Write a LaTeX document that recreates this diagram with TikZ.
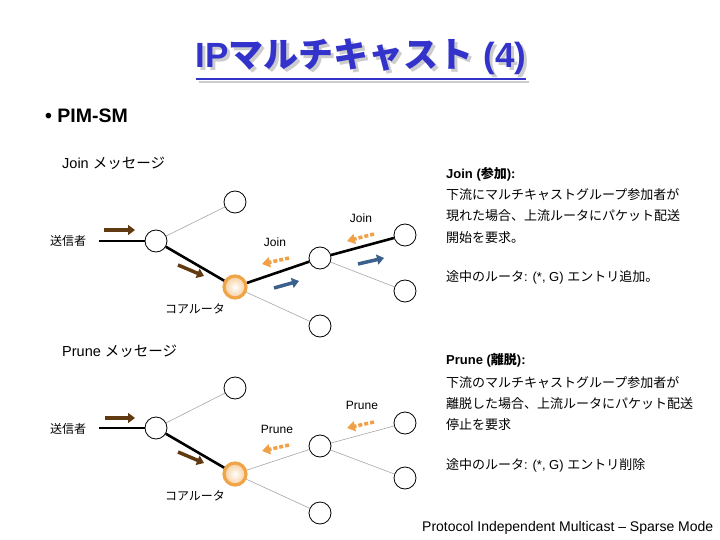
\documentclass[tikz,border=0pt]{standalone}
\usepackage{fontspec}
\setmainfont{Liberation Sans}
\newfontfamily\jp{Noto Sans CJK JP}
\usetikzlibrary{arrows.meta}
\definecolor{titleblue}{RGB}{51,51,204}
\definecolor{brownA}{RGB}{98,58,18}
\definecolor{orangeA}{RGB}{240,160,70}
\definecolor{blueA}{RGB}{60,96,140}
\definecolor{ringO}{RGB}{240,164,72}
\tikzset{
  router/.style={circle, draw=black, line width=0.8pt, minimum size=22pt, inner sep=0pt, fill=white},
  core/.style={circle, draw=ringO, line width=3.2pt, minimum size=22pt, inner sep=0pt, inner color=white, outer color=ringO!55},
  thickln/.style={line width=2.6pt, black},
  thinln/.style={line width=0.6pt, gray!70},
  brownarr/.style={brownA, line width=3.5pt, -{Triangle[length=7pt,width=10pt]}},
  bluearr/.style={blueA, line width=3.5pt, -{Triangle[length=7pt,width=10pt]}},
  orangearr/.style={orangeA, line width=3.5pt, dash pattern=on 4pt off 2pt, -{Triangle[length=8pt,width=10pt]}},
  body/.style={anchor=west, inner sep=0pt, font=\fontsize{13}{15}\selectfont},
  lbl/.style={inner sep=0pt, font=\fontsize{12}{14}\selectfont},
  sub/.style={anchor=west, inner sep=0pt, font=\fontsize{14.5}{17}\selectfont},
}
\begin{document}
\begin{tikzpicture}[x=1pt,y=-1pt]
\useasboundingbox (0,0) rectangle (720,540);
\fill[white] (0,0) rectangle (720,540);

% title
\node[inner sep=0pt, text=gray!40, font=\fontsize{35}{40}\selectfont\bfseries] (titleshadow) at (364,60) {IP{\jp マルチキャスト} (4)};
\node[inner sep=0pt, text=titleblue, font=\fontsize{35}{40}\selectfont\bfseries] (title) at (361,57) {IP{\jp マルチキャスト} (4)};
\draw[gray!40, line width=2.4pt] ([xshift=3pt,yshift=-7pt]title.south west) -- ([xshift=3pt,yshift=-7pt]title.south east);
\draw[titleblue, line width=2.4pt] ([yshift=-4pt]title.south west) -- ([yshift=-4pt]title.south east);

\node[anchor=west, inner sep=0pt, font=\fontsize{19.5}{22}\selectfont\bfseries] (pim) at (45,116) {\textbullet\ PIM-SM};
\node[sub] (joinmsg) at (62,163) {Join {\jp メッセージ}};
\node[sub] (prunemsg) at (62,351) {Prune {\jp メッセージ}};

% ---------- Join diagram ----------
\coordinate (s1) at (99,241);
\node[router] (a1) at (156,241) {};
\node[router] (t1) at (235,202) {};
\node[core]   (c1) at (235,287) {};
\node[router] (b1) at (320,258) {};
\node[router] (r1) at (405,235) {};
\node[router] (d1) at (405,291) {};
\node[router] (e1) at (320,326) {};
\draw[thickln] (s1) -- (a1);
\draw[thickln] (a1) -- (c1);
\draw[thickln] (c1) -- (b1);
\draw[thickln] (b1) -- (r1);
\draw[thinln] (a1) -- (t1);
\draw[thinln] (b1) -- (d1);
\draw[thinln] (c1) -- (e1);

\node[lbl] (snd1) at (68,241) {\jp 送信者};
\node[lbl] (core1) at (195,309) {\jp コアルータ};
\node[lbl] (j1) at (275,242) {Join};
\node[lbl] (j2) at (361,218) {Join};

\coordinate (ba1s) at (104,230); \coordinate (ba1e) at (135,230);
\draw[brownarr] (ba1s) -- (ba1e);
\coordinate (ba2s) at (178,265); \coordinate (ba2e) at (204,276);
\draw[brownarr] (ba2s) -- (ba2e);
\coordinate (oa1s) at (289,258); \coordinate (oa1e) at (262,264);
\draw[orangearr] (oa1s) -- (oa1e);
\coordinate (oa2s) at (374,234); \coordinate (oa2e) at (347,241);
\draw[orangearr] (oa2s) -- (oa2e);
\coordinate (bl1s) at (274,288); \coordinate (bl1e) at (299,281);
\draw[bluearr] (bl1s) -- (bl1e);
\coordinate (bl2s) at (358,264); \coordinate (bl2e) at (384,258);
\draw[bluearr] (bl2s) -- (bl2e);

% ---------- Prune diagram ----------
\coordinate (s2) at (99,428);
\node[router] (a2) at (156,428) {};
\node[router] (t2) at (235,388) {};
\node[core]   (c2) at (235,474) {};
\node[router] (b2) at (320,446) {};
\node[router] (r2) at (405,423) {};
\node[router] (d2) at (405,478) {};
\node[router] (e2) at (320,513) {};
\draw[thickln] (s2) -- (a2);
\draw[thickln] (a2) -- (c2);
\draw[thinln] (c2) -- (b2);
\draw[thinln] (b2) -- (r2);
\draw[thinln] (a2) -- (t2);
\draw[thinln] (b2) -- (d2);
\draw[thinln] (c2) -- (e2);

\node[lbl] (snd2) at (68,429) {\jp 送信者};
\node[lbl] (core2) at (195,496) {\jp コアルータ};
\node[lbl] (p1) at (277,429) {Prune};
\node[lbl] (p2) at (362,405) {Prune};

\coordinate (ba3s) at (105,418); \coordinate (ba3e) at (135,418);
\draw[brownarr] (ba3s) -- (ba3e);
\coordinate (ba4s) at (178,452); \coordinate (ba4e) at (204,463);
\draw[brownarr] (ba4s) -- (ba4e);
\coordinate (oa3s) at (289,445); \coordinate (oa3e) at (262,451);
\draw[orangearr] (oa3s) -- (oa3e);
\coordinate (oa4s) at (374,422); \coordinate (oa4e) at (347,428);
\draw[orangearr] (oa4s) -- (oa4e);

% ---------- right texts ----------
\node[body, font=\fontsize{13}{15}\selectfont\bfseries] (jh) at (446,174) {Join ({\jp 参加}):};
\node[body] (jl1) at (446,195) {\jp 下流にマルチキャストグループ参加者が};
\node[body] (jl2) at (446,216) {\jp 現れた場合、上流ルータにパケット配送};
\node[body] (jl3) at (446,238) {\jp 開始を要求。};
\node[body] (jl4) at (446,277) {{\jp 途中のルータ}: (*, G) {\jp エントリ追加。}};

\node[body, font=\fontsize{13}{15}\selectfont\bfseries] (ph) at (446,360) {Prune ({\jp 離脱}):};
\node[body] (pl1) at (446,383) {\jp 下流のマルチキャストグループ参加者が};
\node[body] (pl2) at (446,404) {\jp 離脱した場合、上流ルータにパケット配送};
\node[body] (pl3) at (446,425) {\jp 停止を要求};
\node[body] (pl4) at (446,465) {{\jp 途中のルータ}: (*, G) {\jp エントリ削除}};

\node[anchor=west, inner sep=0pt, font=\fontsize{14}{16}\selectfont] (foot) at (422,528) {Protocol Independent Multicast -- Sparse Mode};
\end{tikzpicture}
\end{document}
